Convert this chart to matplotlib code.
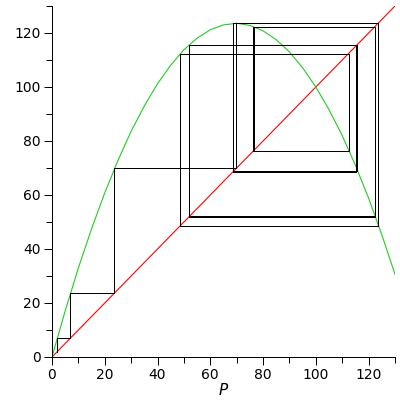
import numpy as np
import matplotlib
matplotlib.use('Agg')
import matplotlib.pyplot as plt

# green curve, every 5 units of P
curve_p = [0, 5, 10, 15, 20, 25, 30, 35, 40, 45, 50, 55, 60, 65,
           70, 75, 80, 85, 90, 95, 100, 105, 110, 115, 120, 125, 130]
curve_f = [0, 17.1, 33.0, 47.5, 60.8, 72.8, 83.6, 93.0, 101.2, 108.1, 113.8, 118.1, 121.2, 123.0,
           123.6, 122.8, 120.8, 117.5, 113.0, 107.1, 100.0, 91.6, 82.0, 71.0, 58.8, 45.3, 30.6]

# cobweb iterates (transient, then the cycle a second time)
iterates = [2.0, 7.0, 23.6, 69.9, 123.6, 48.5, 112.4, 76.25, 122.3, 51.8, 115.39, 68.6,
            123.6, 48.5, 112.4, 76.44, 122.3, 52.08, 115.52, 68.95]

diag = [0, 130]

fig = plt.figure(figsize=(4, 4), dpi=100)
ax = fig.add_axes([0.13, 0.1075, 0.8575, 0.8775])

lw = 0.72  # one pixel
ax.plot(diag, diag, color='#ff0000', lw=0.8)
ax.plot(curve_p, curve_f, color='#22cc22', lw=0.8)

# staircase through the iterates
xs = [iterates[0]]
ys = [iterates[0]]
for a, b in zip(iterates[:-1], iterates[1:]):
    xs += [a, b]
    ys += [b, b]
ax.plot(xs, ys, color='black', lw=lw, antialiased=False)

ax.set_xlim(0, 130)
ax.set_ylim(0, 130)
ax.spines['top'].set_visible(False)
ax.spines['right'].set_visible(False)
ax.spines['left'].set_linewidth(lw)
ax.spines['bottom'].set_linewidth(lw)
ax.set_xticks(np.arange(0, 121, 20))
ax.set_yticks(np.arange(0, 121, 20))
ax.set_xticks(np.arange(10, 131, 20), minor=True)
ax.set_yticks(np.arange(10, 131, 20), minor=True)
ax.tick_params(which='major', length=6, width=lw, labelsize=10, pad=2)
ax.tick_params(which='minor', length=4, width=lw)
ax.set_xlabel('$P$', fontsize=11, labelpad=0)

fig.savefig('out.png', dpi=100)
